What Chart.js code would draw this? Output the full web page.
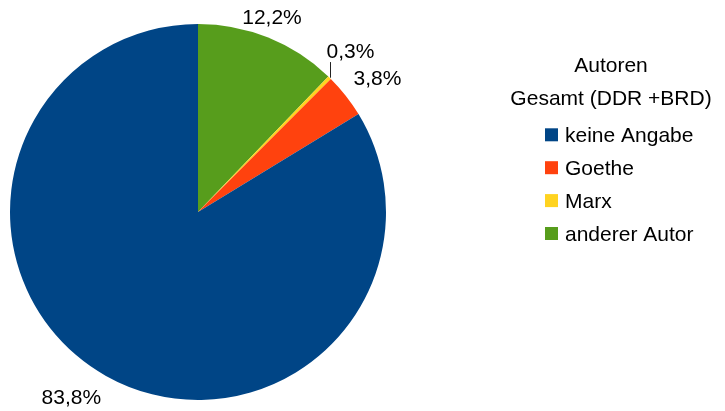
<!DOCTYPE html>
<html>
<head>
<meta charset="utf-8">
<script src="https://cdn.jsdelivr.net/npm/chart.js@4/dist/chart.umd.min.js"></script>
<style>
html,body{margin:0;padding:0;background:#fff;}
#wrap{width:725px;height:411px;position:relative;}
</style>
</head>
<body>
<div id="wrap"><canvas id="c" width="725" height="411"></canvas></div>
<script>
// Legend order (as in the reference)
const categories = ['keine Angabe', 'Goethe', 'Marx', 'anderer Autor'];
const shares = [83.8, 3.8, 0.3, 12.2];
const sliceColors = ['#004586', '#ff420e', '#ffd320', '#579d1c'];
const legendTitle = ['Autoren', 'Gesamt (DDR +BRD)'];

// Pie is drawn clockwise from 12 o'clock in reverse legend order
const drawLabels = categories.slice().reverse();
const drawValues = shares.slice().reverse();
const drawColors = sliceColors.slice().reverse();

const FONT = '"Liberation Sans", Arial, sans-serif';
const FS = 21;

function fmt(v){ return v.toFixed(1).replace('.', ',') + '%'; }

const labelPlugin = {
  id: 'outsideLabels',
  afterDatasetsDraw(chart){
    const ctx = chart.ctx;
    const meta = chart.getDatasetMeta(0);
    ctx.save();
    ctx.font = FS + 'px ' + FONT;
    const asc = 0.905*FS, desc = 0.212*FS;
    const boxes = meta.data.map((arc, i) => {
      const p = arc.getProps(['x','y','startAngle','endAngle','outerRadius'], true);
      const mid = (p.startAngle + p.endAngle)/2;
      const Rl = p.outerRadius + 10;
      const ax = p.x + Rl*Math.cos(mid), ay = p.y + Rl*Math.sin(mid);
      let deg = (-mid*180/Math.PI) % 360; if (deg < 0) deg += 360;
      const text = fmt(chart.data.datasets[0].data[i]);
      const w = ctx.measureText(text).width, h = asc + desc;
      let left, top;
      if (deg <= 22.5 || deg >= 337.5) { left = ax; top = ay - h/2; }
      else if (deg < 67.5) { left = ax; top = ay - h; }
      else if (deg < 112.5) { left = ax - w/2; top = ay - h; }
      else if (deg <= 157.5) { left = ax - w; top = ay - h; }
      else if (deg <= 202.5) { left = ax - w; top = ay - h/2; }
      else if (deg < 247.5) { left = ax - w; top = ay; }
      else if (deg < 292.5) { left = ax - w/2; top = ay; }
      else { left = ax; top = ay; }
      return {i, text, w, h, left, top, mid, p, value: chart.data.datasets[0].data[i], leader: null};
    });
    const overlap = (a, b) => a.left < b.left + b.w && b.left < a.left + a.w && a.top < b.top + b.h && b.top < a.top + a.h;
    boxes.forEach(a => {
      boxes.forEach(b => {
        if (a !== b && a.value < b.value && overlap(a, b)) {
          const px = a.p.x + a.p.outerRadius*Math.cos(a.mid);
          const py = a.p.y + a.p.outerRadius*Math.sin(a.mid);
          a.left = px - 3;
          a.top = b.top - 4 - a.h;
          a.leader = {x: Math.round(px) + 0.5, y1: py, y2: a.top + a.h};
        }
      });
    });
    ctx.fillStyle = '#000';
    ctx.textBaseline = 'alphabetic';
    ctx.textAlign = 'left';
    boxes.forEach(b => {
      if (b.leader) {
        ctx.strokeStyle = '#222';
        ctx.lineWidth = 1;
        ctx.beginPath();
        ctx.moveTo(b.leader.x, b.leader.y1);
        ctx.lineTo(b.leader.x, b.leader.y2);
        ctx.stroke();
      }
      ctx.fillText(b.text, b.left, b.top + asc);
    });
    ctx.restore();
  }
};

const legendPlugin = {
  id: 'customLegend',
  afterDraw(chart){
    const ctx = chart.ctx;
    ctx.save();
    ctx.font = FS + 'px ' + FONT;
    ctx.fillStyle = '#000';
    ctx.textBaseline = 'alphabetic';
    const cx = 611;
    ctx.textAlign = 'center';
    legendTitle.forEach((t, k) => ctx.fillText(t, cx, 72 + k*32.6));
    ctx.textAlign = 'left';
    categories.forEach((name, k) => {
      const base = 142.3 + k*32.9;
      ctx.fillStyle = sliceColors[k];
      ctx.fillRect(545, base - 14, 13, 13);
      ctx.fillStyle = '#000';
      ctx.fillText(name, 565, base);
    });
    ctx.restore();
  }
};

new Chart(document.getElementById('c'), {
  type: 'pie',
  data: {
    labels: drawLabels,
    datasets: [{
      data: drawValues,
      backgroundColor: drawColors,
      borderWidth: 0,
      hoverOffset: 0
    }]
  },
  options: {
    responsive: false,
    animation: false,
    layout: { padding: { top: 24, bottom: 11, left: 10, right: 339 } },
    plugins: {
      legend: { display: false },
      tooltip: { enabled: false }
    }
  },
  plugins: [labelPlugin, legendPlugin]
});
</script>
</body>
</html>
